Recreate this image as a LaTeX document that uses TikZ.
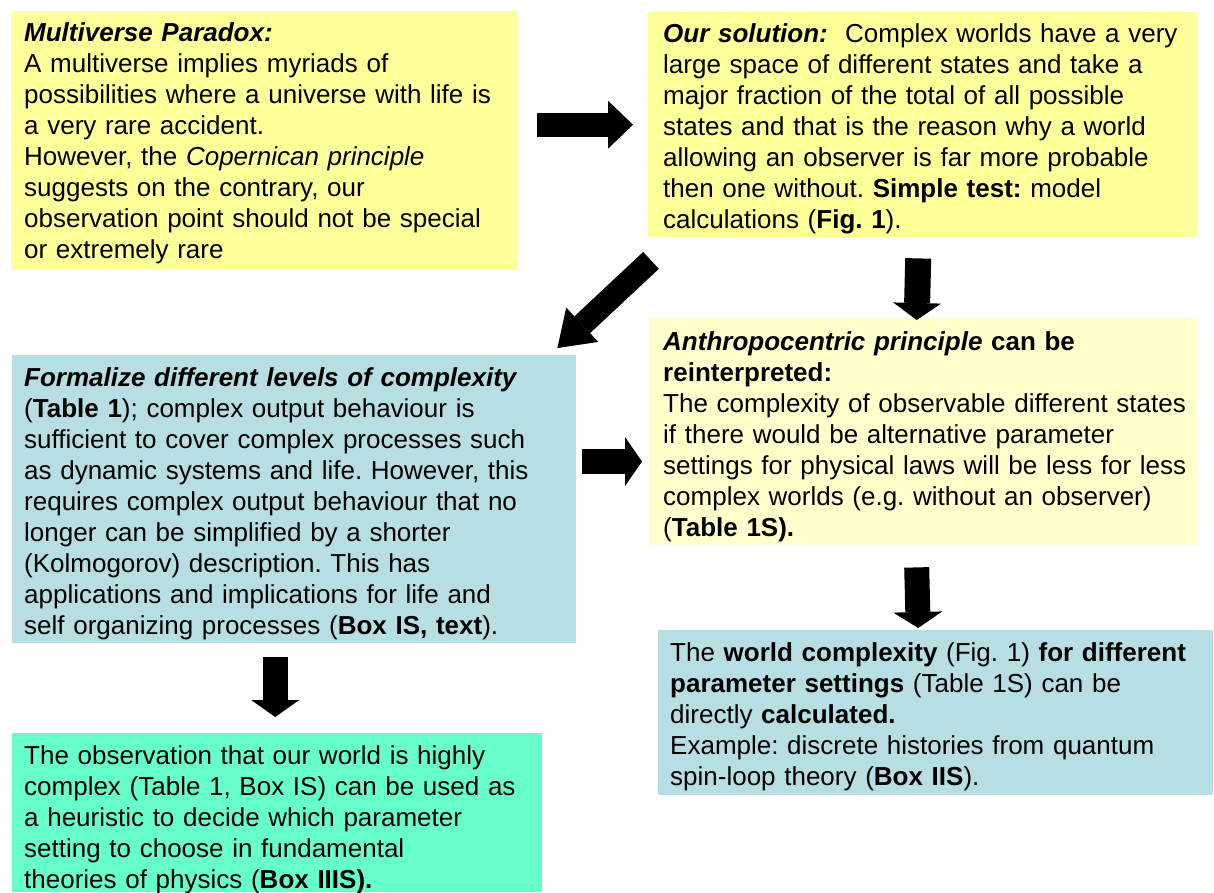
\documentclass[tikz,border=0pt]{standalone}
\usepackage{fontspec}
\setmainfont{Liberation Sans}
\usetikzlibrary{arrows.meta}
\definecolor{ylw}{HTML}{FFFF99}
\definecolor{paleylw}{HTML}{FFFFCC}
\definecolor{bluebox}{HTML}{B7DEE2}
\definecolor{mint}{HTML}{66FFCC}
\frenchspacing
\begin{document}
\begin{tikzpicture}[x=1pt,y=-1pt,
  box/.style={inner sep=0pt, anchor=north west, draw=none},
  txt/.style={inner sep=0pt, anchor=north west, text width=600pt, align=left,
    font=\fontsize{26}{31}\selectfont\frenchspacing},
  blk/.style n args={3}{draw=black, line width=#1,
    -{Triangle[length=#3, width=#2, line width=0pt]}}]
\useasboundingbox[fill=white] (0,0) rectangle (1214,892);

% boxes
\node[box, fill=ylw, minimum width=507pt, minimum height=259pt] (b1) at (11,11) {};
\node[box, fill=ylw, minimum width=549pt, minimum height=225pt] (b2) at (648,12) {};
\node[box, fill=bluebox, minimum width=564pt, minimum height=288pt] (b3) at (12,355) {};
\node[box, fill=paleylw, minimum width=548pt, minimum height=227pt] (b4) at (649,318) {};
\node[box, fill=bluebox, minimum width=555pt, minimum height=165pt] (b5) at (658,630) {};
\node[box, fill=mint, minimum width=530pt, minimum height=159pt] (b6) at (12,733) {};

% texts
\node[txt] (t1) at ([shift={(13,8.3)}]b1.north west) {\strut\textbf{\textit{Multiverse Paradox:}}\\
A multiverse implies myriads of\\
possibilities where a universe with life is\\
a very rare accident.\\
However, the \textit{Copernican principle}\\
suggests on the contrary, our\\
observation point should not be special\\
or extremely rare};

\node[txt] (t2) at ([shift={(15,8.3)}]b2.north west) {\strut\textbf{\textit{Our solution:}}\ \ Complex worlds have a very\\
large space of different states and take a\\
major fraction of the total of all possible\\
states and that is the reason why a world\\
allowing an observer is far more probable\\
then one without. \textbf{Simple test:} model\\
calculations (\textbf{Fig. 1}).};

\node[txt] (t3) at ([shift={(12,9.3)}]b3.north west) {\strut\textbf{\textit{Formalize different levels of complexity}}\\
(\textbf{Table 1}); complex output behaviour is\\
sufficient to cover complex processes such\\
as dynamic systems and life. However, this\\
requires complex output behaviour that no\\
longer can be simplified by a shorter\\
(Kolmogorov) description. This has\\
applications and implications for life and\\
self organizing processes (\textbf{Box IS, text}).};

\node[txt] (t4) at ([shift={(14,10.3)}]b4.north west) {\strut\textbf{\textit{Anthropocentric principle} can be}\\
\textbf{reinterpreted:}\\
The complexity of observable different states\\
if there would be alternative parameter\\
settings for physical laws will be less for less\\
complex worlds (e.g. without an observer)\\
(\textbf{Table 1S).}};

\node[txt] (t5) at ([shift={(12,9.3)}]b5.north west) {\strut The \textbf{world complexity} (Fig. 1) \textbf{for different}\\
\textbf{parameter settings} (Table 1S) can be\\
directly \textbf{calculated.}\\
Example: discrete histories from quantum\\
spin-loop theory (\textbf{Box IIS}).};

\node[txt] (t6) at ([shift={(12,9.3)}]b6.north west) {\strut The observation that our world is highly\\
complex (Table 1, Box IS) can be used as\\
a heuristic to decide which parameter\\
setting to choose in fundamental\\
theories of physics (\textbf{Box IIIS).}};

% block arrows
\draw[blk={24pt}{48pt}{25pt}, shorten <=19pt, shorten >=15pt] (b1.east |- b2.west) -- (b2.west);
\draw[blk={23pt}{47pt}{34pt}] ([shift={(3,23)}]b2.south west) -- ([shift={(-19,-7)}]b3.north east);
\draw[blk={26pt}{48pt}{17pt}] ([shift={(-4.5,21)}]b2.south) -- ([shift={(-6.5,2)}]b4.north);
\draw[blk={25pt}{49pt}{17pt}, shorten <=6pt, shorten >=7pt] (b3.east |- 0,461.5) -- (b4.west |- 0,461.5);
\draw[blk={25pt}{49pt}{16pt}] ([shift={(-6.5,22)}]b4.south) -- ([shift={(-17.5,-2)}]b5.north);
\draw[blk={25pt}{48pt}{17pt}] ([shift={(-2,14)}]b6.north |- b3.south) -- ([shift={(-2,-16)}]b6.north);
\end{tikzpicture}
\end{document}
